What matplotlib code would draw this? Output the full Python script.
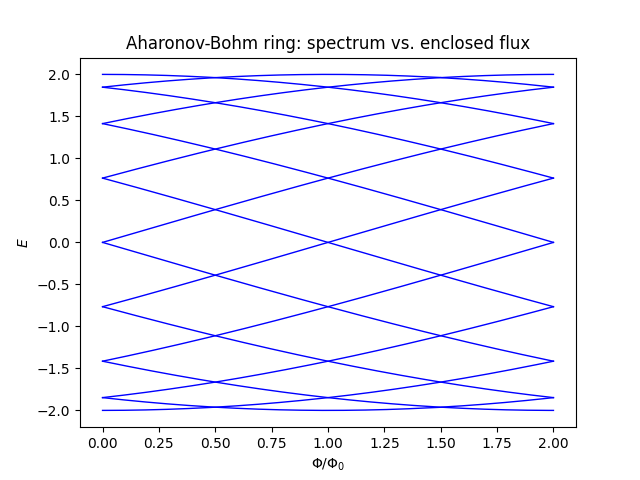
import numpy as np
import matplotlib
matplotlib.use("Agg")
import matplotlib.pyplot as plt

# ring parameters (levels at 0, +-0.77, +-1.41, +-1.85, +-2)
n_sites = 16
hopping = 1.0
flux = np.linspace(0.0, 2.0, 401)  # Phi / Phi_0


def ring_hamiltonian(n, t, phi):
    # tight-binding ring, flux enters as a Peierls phase on the closing bond
    h = np.zeros((n, n), dtype=complex)
    for j in range(n - 1):
        h[j, j + 1] = -t
        h[j + 1, j] = -t
    h[n - 1, 0] = -t * np.exp(2j * np.pi * phi)
    h[0, n - 1] = np.conj(h[n - 1, 0])
    return h


energies = np.array([np.linalg.eigvalsh(ring_hamiltonian(n_sites, hopping, p)) for p in flux])

fig, ax = plt.subplots(figsize=(6.4, 4.8), dpi=100)
for k in range(n_sites):
    ax.plot(flux, energies[:, k], color="b", linewidth=1)

ax.set_xlabel(r"$\Phi/\Phi_0$")
ax.set_ylabel(r"$E$")
ax.set_title("Aharonov-Bohm ring: spectrum vs. enclosed flux")

fig.savefig("out.png")
